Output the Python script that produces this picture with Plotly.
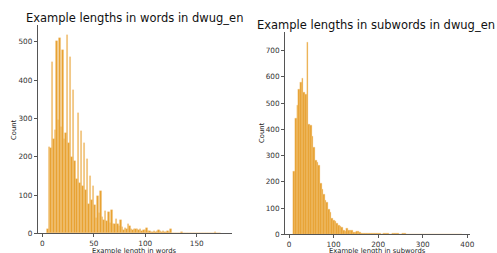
import numpy as np
import plotly.graph_objects as go

# ---------------- data ----------------
# Left: example lengths in words (histogram counts)
word_bin_start = 4.3
word_bin_width = 1.48
word_counts = [
    11, 226, 223, 447, 245, 269, 501, 295, 510, 277,
    480, 246, 261, 519, 235, 461, 198, 374, 188, 142,
    314, 131, 266, 123, 236, 114, 194, 77, 150, 86,
    124, 73, 40, 97, 53, 110, 43, 36, 57, 31,
    56, 27, 60, 23, 23, 37,
    24, 19, 35, 16, 9, 13, 12, 23, 19, 12,
    9, 11, 12, 10, 8, 11, 7, 9, 8, 13,
    6, 5, 3, 3, 5, 3, 5, 8, 6, 3,
    6, 3, 3, 6, 3, 10, 2, 1, 2, 1,
    2, 1, 3, 1, 1, 2, 1, 1, 0, 1,
    1, 0, 1, 0, 1, 0, 1, 1, 0, 1,
    2, 1, 0, 1, 3, 2, 1, 1,
]

# Right: example lengths in subwords (histogram counts)
sub_bin_start = 10.0
sub_bin_width = 3.7
sub_counts = [
    240, 441, 491, 552, 580, 595, 542, 535, 731, 420,
    415, 373, 331, 283, 275, 262, 196, 170, 151, 128,
    122, 94, 84, 61, 52, 48, 42, 36, 29, 25,
    14, 11, 23, 14, 17, 14, 8, 6, 11, 10,
    6, 4, 5, 4, 3, 4, 3, 2, 3, 4,
    5, 2, 2, 1, 2, 3, 2, 4, 1, 1,
    2, 5, 4, 2, 1, 1, 3, 4, 1, 0,
    1, 1, 0, 1, 0, 1, 0, 1, 0, 0,
    1, 0, 0, 1, 0, 0, 0, 1, 0, 0,
    0, 0, 1, 0, 0, 0, 0, 0, 0, 0,
    1, 1,
]

word_xticks = [0, 50, 100, 150]
word_yticks = [0, 100, 200, 300, 400, 500]
sub_xticks = [0, 100, 200, 300, 400]
sub_yticks = [0, 100, 200, 300, 400, 500, 600, 700]

left_title = "Example lengths in words in dwug_en"
right_title = "Example lengths in subwords in dwug_en"
left_xlabel = "Example length in words"
right_xlabel = "Example length in subwords"
ylabel = "Count"

# ---------------- figure ----------------
W, H = 497, 253
bar_color = "#E8A232"
edge_color = "rgba(242,195,120,1)"

word_centers = word_bin_start + word_bin_width * (np.arange(len(word_counts)) + 0.5)
sub_centers = sub_bin_start + sub_bin_width * (np.arange(len(sub_counts)) + 0.5)

fig = go.Figure()
fig.add_trace(go.Bar(
    x=word_centers, y=word_counts, width=word_bin_width,
    marker=dict(color=bar_color, line=dict(color=edge_color, width=0.3)),
    xaxis="x", yaxis="y", showlegend=False,
))
fig.add_trace(go.Bar(
    x=sub_centers, y=sub_counts, width=sub_bin_width,
    marker=dict(color=bar_color, line=dict(color=edge_color, width=0.3)),
    xaxis="x2", yaxis="y2", showlegend=False,
))

def px_x(p):
    return p / W

def px_y(p):
    return (H - p) / H

tick_font = dict(family="DejaVu Sans", size=7.3, color="#333333")
axis_common = dict(
    showgrid=False, zeroline=False, showline=True, linecolor="#555555",
    linewidth=0.8, ticks="outside", ticklen=3, tickwidth=0.8,
    tickcolor="#555555", tickfont=tick_font, automargin=False,
)

fig.update_layout(
    width=W, height=H,
    margin=dict(l=0, r=0, t=0, b=0, autoexpand=False),
    paper_bgcolor="white", plot_bgcolor="white",
    bargap=0,
    xaxis=dict(domain=[px_x(37.7), px_x(231.7)], range=[-4.5, 184],
               tickvals=word_xticks, anchor="y", **axis_common),
    yaxis=dict(domain=[px_y(233.3), px_y(25)], range=[0, 544],
               tickvals=word_yticks, anchor="x", **axis_common),
    xaxis2=dict(domain=[px_x(285), px_x(470)], range=[-9, 406],
                tickvals=sub_xticks, anchor="y2", **axis_common),
    yaxis2=dict(domain=[px_y(234.3), px_y(32.3)], range=[0, 770],
                tickvals=sub_yticks, anchor="x2", **axis_common),
    font=dict(family="DejaVu Sans"),
)

title_font = dict(family="DejaVu Sans", size=11.5, color="#111111")
label_font = dict(family="DejaVu Sans", size=6.8, color="#222222")
annos = [
    dict(text=left_title, x=px_x(134.7), y=px_y(18), font=title_font, yanchor="middle"),
    dict(text=right_title, x=px_x(376), y=px_y(25), font=title_font, yanchor="middle"),
    dict(text=left_xlabel, x=px_x(134.7), y=0, font=label_font, yanchor="bottom",
         borderpad=0, yshift=-3),
    dict(text=right_xlabel, x=px_x(377.5), y=0, font=label_font, yanchor="bottom",
         borderpad=0, yshift=-3),
    dict(text=ylabel, x=px_x(14), y=px_y(130), font=label_font, textangle=-90, yanchor="middle"),
    dict(text=ylabel, x=px_x(262), y=px_y(133), font=label_font, textangle=-90, yanchor="middle"),
]
for a in annos:
    fig.add_annotation(xref="paper", yref="paper", showarrow=False,
                       xanchor="center", **a)

fig.write_html(
    "out.html",
    config={"displayModeBar": False},
    post_script="document.body.style.margin='0';document.body.style.padding='0';",
)
